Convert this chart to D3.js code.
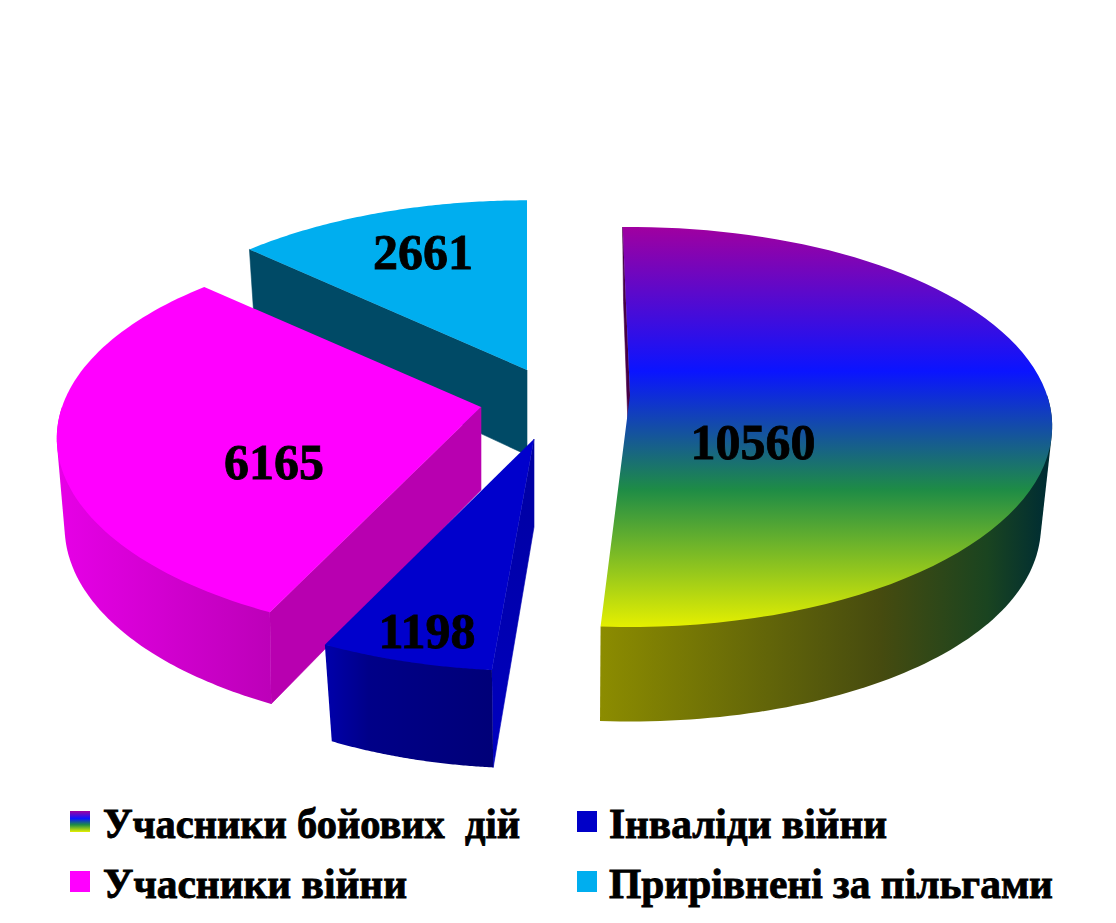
<!DOCTYPE html>
<html><head><meta charset="utf-8">
<script src="https://cdnjs.cloudflare.com/ajax/libs/d3/7.8.5/d3.min.js"></script>
<style>html,body{margin:0;padding:0;background:#fff}svg{display:block}
text{font-family:"Liberation Serif","Times New Roman",serif;font-weight:bold;fill:#000;white-space:pre}</style>
</head><body><svg id="c" width="1116" height="923"></svg>
<script>
const categories = ["Учасники бойових  дій","Інваліди війни","Учасники війни","Прирівнені за пільгами"];
const values = [10560,1198,6165,2661];
const valueLabels = ["10560","1198","6165","2661"];

// per-slice placement of the exploded pie (apex on the top face), not data
const deg=Math.PI/180;
const geometry = [
 {ax:630,ay:395,rot0:-1.2,rot1:-1.2,R:417,Rb:401,kxb:0.23,D:85,Ry:200,lx:753,ly:459,wallFrom:90*deg,wallTo:null},
 {ax:534,ay:439,rot0:0.3,rot1:0.3,R:418,Rb:401,kxb:0.17,D:88,Ry:200,lx:427,ly:648,wallFrom:null,wallTo:null},
 {ax:481,ay:407,rot0:0.5,rot1:-1.2,R:419,Rb:410,kxb:0.18,D:83,Ry:200,lx:274,ly:479,wallFrom:null,wallTo:270*deg},
 {ax:527,ay:370,rot0:-1.5,rot1:0,R:418,Rb:410,kxb:0.16,D:85,Ry:202,lx:423,ly:269,wallFrom:null,wallTo:null}
];
const k=0.16,Ryb=210,kb=0.15;
const svg=d3.select("#c"),defs=svg.append("defs");

function grad(id,x1,y1,x2,y2,stops){
  const g=defs.append("linearGradient").attr("id",id).attr("gradientUnits","userSpaceOnUse")
    .attr("x1",x1).attr("y1",y1).attr("x2",x2).attr("y2",y2);
  stops.forEach(s=>g.append("stop").attr("offset",s[0]).attr("stop-color",s[1]));
}
const topStops=[[0,"#a000a0"],[0.36,"#0a14ff"],[0.655,"#1e8c46"],[1,"#e6f000"]];
grad("g1top",0,227,0,628,topStops);
grad("g1side",600,0,1045,0,[[0,"#8c8c00"],[0.63,"#464b0f"],[0.87,"#1a4420"],[1,"#002d32"]]);
grad("g3side",60,0,275,0,[[0,"#e600e6"],[1,"#bc00b8"]]);
grad("g2side",327,0,494,0,[[0,"#0000aa"],[0.25,"#000088"],[1,"#000078"]]);
grad("g2wall",0,440,0,767,[[0,"#0000a0"],[1,"#0000c0"]]);
defs.append("linearGradient").attr("id","gLegend").attr("x1",0).attr("y1",0).attr("x2",0).attr("y2",1)
  .selectAll("stop").data(topStops).join("stop").attr("offset",d=>d[0]).attr("stop-color",d=>d[1]);

const pie=d3.pie().sort(null).value(d=>d)(values);
const line=d3.line().x(d=>d[0]).y(d=>d[1]);
const topPt=(g,a)=>{const x=Math.sin(a),y=-Math.cos(a),s=1+k*y;return [g.ax+g.R*x*s,g.ay+g.Ry*y*s];};
const botPt=(g,a)=>{const x=Math.sin(a),y=-Math.cos(a);return [g.ax+g.Rb*x*(1+g.kxb*y),g.ay+g.D+Ryb*y*(1+kb*y)];};
const arcPts=(f,g,a0,a1)=>d3.range(0,81).map(i=>f(g,a0+(a1-a0)*i/80));

const slices=pie.map((p,i)=>{
  const g=geometry[i];
  return {i,g,a0:p.startAngle+g.rot0*deg,a1:p.endAngle+g.rot1*deg};
});
const style={
 0:{top:"url(#g1top)",side:"url(#g1side)",wall:"#460046"},
 1:{top:"#0000cc",side:"url(#g2side)",wall:"url(#g2wall)"},
 2:{top:"#ff00ff",side:"url(#g3side)",wall:"#b800b0"},
 3:{top:"#00aeef",side:"#004a66",wall:"#004a66"}
};
const order=[3,2,1,0];
order.forEach(i=>{
  const s=slices[i],g=s.g,st=style[i],G=svg.append("g");
  const apexT=[g.ax,g.ay],apexB=[g.ax,g.ay+g.D];
  // radial wall along the start angle
  G.append("path").attr("d",line([apexT,topPt(g,s.a0),botPt(g,s.a0),apexB])+"Z").attr("fill",st.wall)
    .attr("stroke",st.wall).attr("stroke-width",0.6);
  // curved outer wall: silhouette hull of the top and bottom rims
  if(i!==3){
    const f=g.wallFrom===null?s.a0:g.wallFrom, t=g.wallTo===null?s.a1:g.wallTo;
    const hull=d3.polygonHull(arcPts(topPt,g,f,t).concat(arcPts(botPt,g,f,t)));
    G.append("path").attr("d",line(hull)+"Z").attr("fill",st.side);
  }
  // top face
  G.append("path").attr("d",line([apexT].concat(arcPts(topPt,g,s.a0,s.a1)))+"Z").attr("fill",st.top);
});

svg.append("g").selectAll("text").data(valueLabels).join("text")
  .attr("x",(d,i)=>geometry[i].lx).attr("y",(d,i)=>geometry[i].ly)
  .attr("text-anchor","middle").attr("font-size",50)
  .attr("stroke","#000").attr("stroke-width",0.8)
  .text(d=>d);

const legX=[70,577,70,577],legY=[811,811,871,871];
const legOrder=[0,1,2,3];
const legColors=["url(#gLegend)","#0000c8","#ff00ff","#00aeef"];
const legW=[417,278,304,444];
const lg=svg.append("g").selectAll("g").data(legOrder).join("g");
lg.append("rect").attr("x",(d,i)=>legX[i]).attr("y",(d,i)=>legY[i]).attr("width",20).attr("height",21)
  .attr("fill",(d,i)=>legColors[i]);
lg.append("text").attr("x",(d,i)=>legX[i]+(i%2?32:33)).attr("y",(d,i)=>legY[i]+27)
  .attr("font-size",42).attr("textLength",(d,i)=>legW[i]).attr("lengthAdjust","spacingAndGlyphs")
  .attr("stroke","#000").attr("stroke-width",0.9)
  .text(d=>categories[d]);
</script></body></html>
